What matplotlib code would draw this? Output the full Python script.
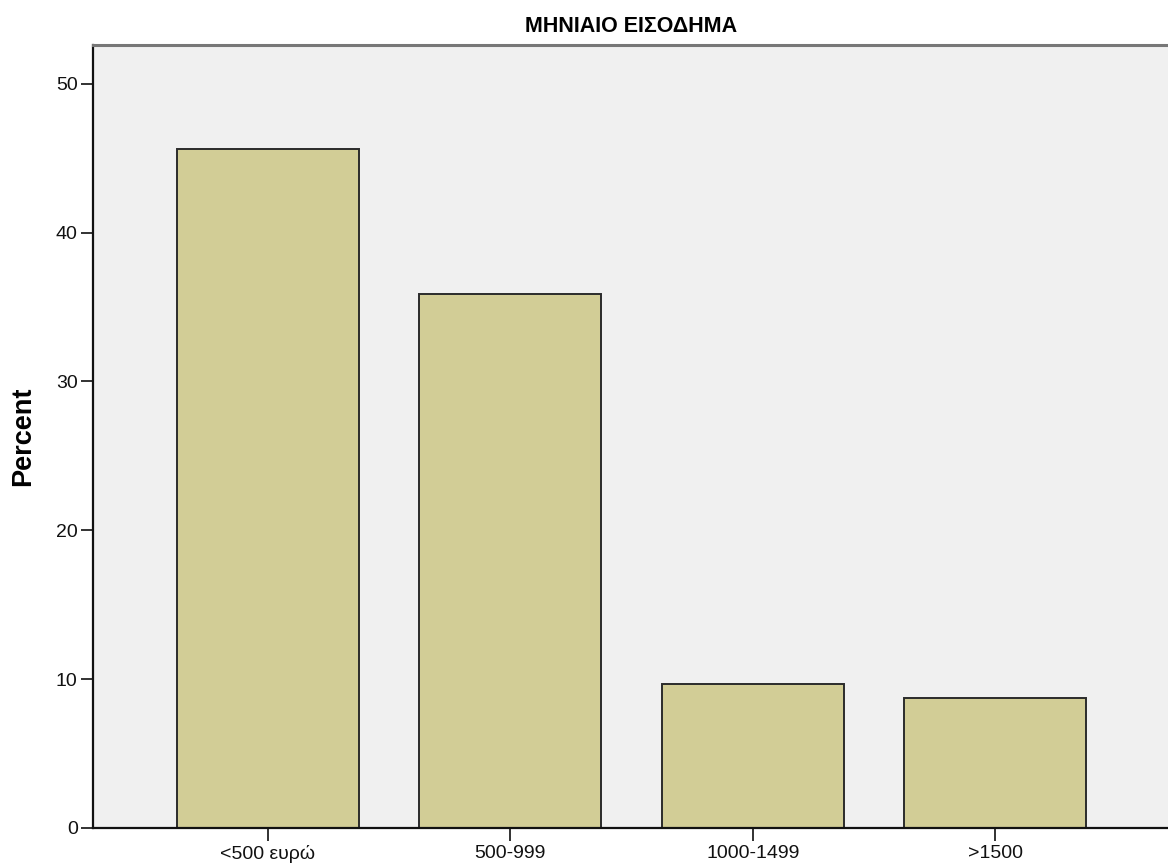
import matplotlib.pyplot as plt
import numpy as np

# ΜΗΝΙΑΙΟ ΕΙΣΟΔΗΜΑ (monthly income), percent of respondents
categories = ["<500 ευρώ", "500-999", "1000-1499", ">1500"]
percent = [45.6, 35.9, 9.7, 8.7]
yticks = [0, 10, 20, 30, 40, 50]

plt.rcParams["font.family"] = ["Liberation Sans", "DejaVu Sans"]

fig = plt.figure(figsize=(11.68, 8.68), dpi=100)
ax = fig.add_axes([93 / 1168, 40 / 868, 1077 / 1168, 783 / 868])

x = np.arange(len(categories))
ax.bar(x, percent, width=0.75, color="#d2cd96", edgecolor="#2b2b2b", linewidth=1.4, zorder=2)

ax.set_facecolor("#f0f0f0")
ax.set_xlim(-0.72, 3.72)
ax.set_ylim(0, 52.6)
ax.set_xticks(x)
ax.set_xticklabels(categories)
ax.set_yticks(yticks)

ax.tick_params(axis="both", direction="out", length=9, width=1.3, color="#222222",
               labelsize=14, pad=2, labelcolor="#111111")
ax.tick_params(axis="x", pad=3)

for side in ["left", "bottom"]:
    ax.spines[side].set_linewidth(1.6)
    ax.spines[side].set_color("#111111")
ax.spines["top"].set_linewidth(2.2)
ax.spines["top"].set_color("#777777")
ax.spines["right"].set_visible(False)

ax.set_ylabel("Percent", fontsize=19.5, fontweight="bold", labelpad=14)
ax.set_title("ΜΗΝΙΑΙΟ ΕΙΣΟΔΗΜΑ", fontsize=15.5, fontweight="bold", pad=9)

fig.savefig("out.png", dpi=100)
